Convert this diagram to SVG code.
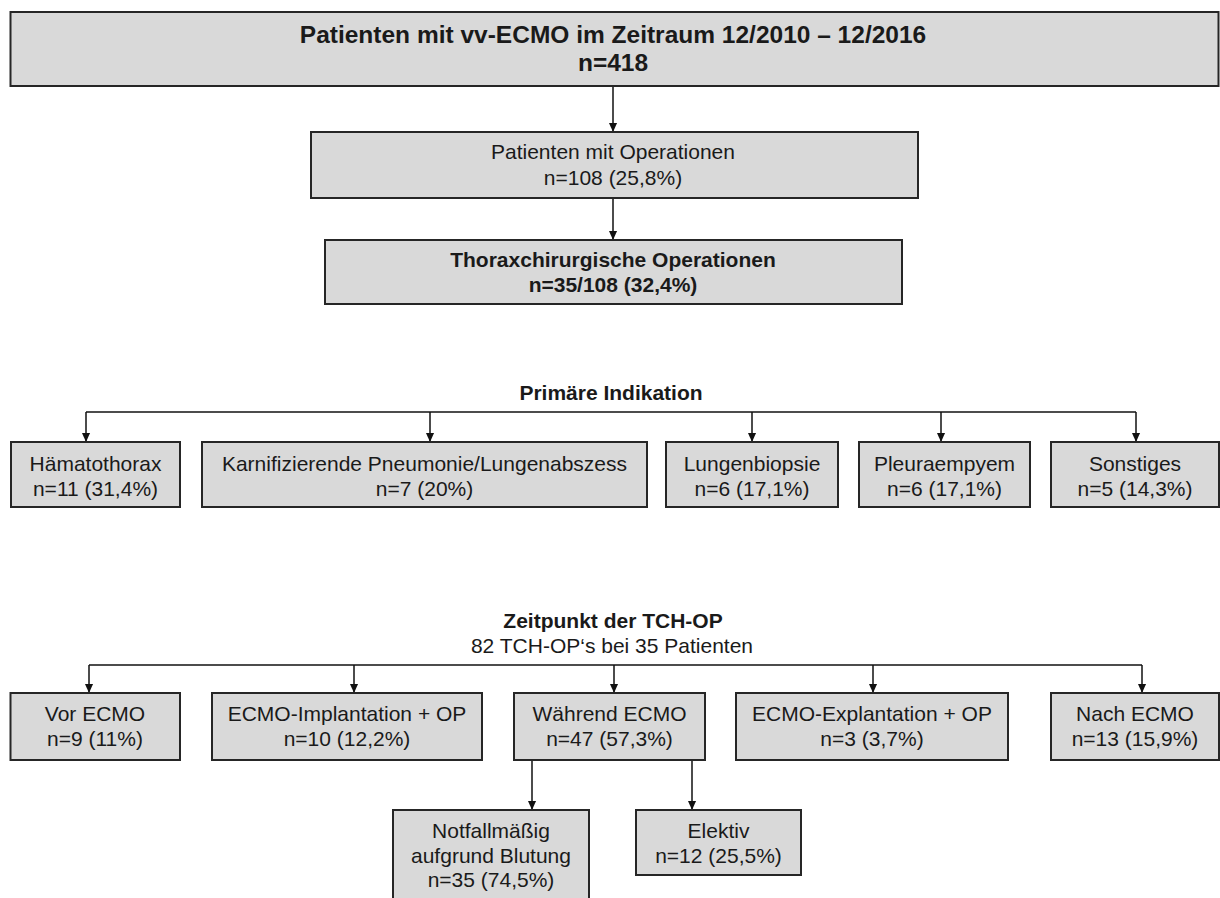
<svg xmlns="http://www.w3.org/2000/svg" width="1220" height="898" viewBox="0 0 1220 898">
<defs>
<style>
.box{fill:#d9d9d9;stroke:#262626;stroke-width:2}
.t{font-family:"Liberation Sans",Arial,sans-serif;font-size:21px;fill:#1a1a1a;text-anchor:middle}
.b{font-weight:bold}
.ttl{font-size:24.5px}
.conn line{stroke:#111;stroke-width:1.5;fill:none}
.conn .arr{marker-end:url(#ah)}
</style>
<marker id="ah" markerUnits="userSpaceOnUse" viewBox="0 0 10 9" markerWidth="9" markerHeight="9" refX="10" refY="4.5" orient="auto">
<path d="M0,0 L10,4.5 L0,9 z" fill="#111"/>
</marker>
</defs>
<rect width="1220" height="898" fill="#ffffff"/>

<g id="connectors" class="conn">
<line class="arr" x1="613" y1="86" x2="613" y2="132"/>
<line class="arr" x1="613" y1="198" x2="613" y2="240"/>
<line x1="86" y1="412" x2="1136" y2="412"/>
<line class="arr" x1="86" y1="412" x2="86" y2="442"/>
<line class="arr" x1="430" y1="412" x2="430" y2="442"/>
<line class="arr" x1="752" y1="412" x2="752" y2="442"/>
<line class="arr" x1="941" y1="412" x2="941" y2="442"/>
<line class="arr" x1="1136" y1="412" x2="1136" y2="442"/>
<line x1="89" y1="665" x2="1142" y2="665"/>
<line class="arr" x1="89" y1="665" x2="89" y2="693"/>
<line class="arr" x1="354" y1="665" x2="354" y2="693"/>
<line class="arr" x1="614" y1="665" x2="614" y2="693"/>
<line class="arr" x1="873" y1="665" x2="873" y2="693"/>
<line class="arr" x1="1142" y1="665" x2="1142" y2="693"/>
<line class="arr" x1="532" y1="760" x2="532" y2="810"/>
<line class="arr" x1="692" y1="760" x2="692" y2="810"/>
</g>

<g id="node-total">
<rect class="box" x="10.5" y="12" width="1208" height="74"/>
<text class="t b ttl" x="613" y="43">Patienten mit vv-ECMO im Zeitraum 12/2010 – 12/2016</text>
<text class="t b ttl" x="613" y="71">n=418</text>
</g>

<g id="node-operationen">
<rect class="box" x="311" y="132" width="607" height="66"/>
<text class="t" x="613" y="159">Patienten mit Operationen</text>
<text class="t" x="613" y="185">n=108 (25,8%)</text>
</g>

<g id="node-thorax">
<rect class="box" x="325" y="240" width="577" height="64"/>
<text class="t b" x="613" y="267">Thoraxchirurgische Operationen</text>
<text class="t b" x="613" y="292">n=35/108 (32,4%)</text>
</g>

<g id="label-indikation">
<text class="t b" x="611" y="400">Primäre Indikation</text>
</g>

<g id="node-haematothorax">
<rect class="box" x="11" y="442" width="169" height="65"/>
<text class="t" x="95.5" y="471">Hämatothorax</text>
<text class="t" x="95.5" y="496">n=11 (31,4%)</text>
</g>
<g id="node-karnifizierend">
<rect class="box" x="202" y="442" width="445" height="65"/>
<text class="t" x="424.5" y="471">Karnifizierende Pneumonie/Lungenabszess</text>
<text class="t" x="424.5" y="496">n=7 (20%)</text>
</g>
<g id="node-lungenbiopsie">
<rect class="box" x="666" y="442" width="172" height="65"/>
<text class="t" x="752" y="471">Lungenbiopsie</text>
<text class="t" x="752" y="496">n=6 (17,1%)</text>
</g>
<g id="node-pleuraempyem">
<rect class="box" x="859" y="442" width="171" height="65"/>
<text class="t" x="944.5" y="471">Pleuraempyem</text>
<text class="t" x="944.5" y="496">n=6 (17,1%)</text>
</g>
<g id="node-sonstiges">
<rect class="box" x="1051" y="442" width="168" height="65"/>
<text class="t" x="1135" y="471">Sonstiges</text>
<text class="t" x="1135" y="496">n=5 (14,3%)</text>
</g>

<g id="label-zeitpunkt">
<text class="t b" x="613" y="628">Zeitpunkt der TCH-OP</text>
<text class="t" x="612" y="653">82 TCH-OP‘s bei 35 Patienten</text>
</g>

<g id="node-vor">
<rect class="box" x="10.5" y="693" width="169.5" height="67"/>
<text class="t" x="95" y="721">Vor ECMO</text>
<text class="t" x="95" y="746">n=9 (11%)</text>
</g>
<g id="node-implantation">
<rect class="box" x="212" y="693" width="270" height="67"/>
<text class="t" x="347" y="721">ECMO-Implantation + OP</text>
<text class="t" x="347" y="746">n=10 (12,2%)</text>
</g>
<g id="node-waehrend">
<rect class="box" x="514" y="693" width="191" height="67"/>
<text class="t" x="609.5" y="721">Während ECMO</text>
<text class="t" x="609.5" y="746">n=47 (57,3%)</text>
</g>
<g id="node-explantation">
<rect class="box" x="736" y="693" width="272" height="67"/>
<text class="t" x="872" y="721">ECMO-Explantation + OP</text>
<text class="t" x="872" y="746">n=3 (3,7%)</text>
</g>
<g id="node-nach">
<rect class="box" x="1051" y="693" width="168" height="67"/>
<text class="t" x="1135" y="721">Nach ECMO</text>
<text class="t" x="1135" y="746">n=13 (15,9%)</text>
</g>

<g id="node-notfall">
<rect class="box" x="393" y="810" width="196" height="95"/>
<text class="t" x="491" y="838">Notfallmäßig</text>
<text class="t" x="491" y="863">aufgrund Blutung</text>
<text class="t" x="491" y="887">n=35 (74,5%)</text>
</g>
<g id="node-elektiv">
<rect class="box" x="636" y="810" width="165" height="65"/>
<text class="t" x="718.5" y="838">Elektiv</text>
<text class="t" x="718.5" y="863">n=12 (25,5%)</text>
</g>
</svg>
